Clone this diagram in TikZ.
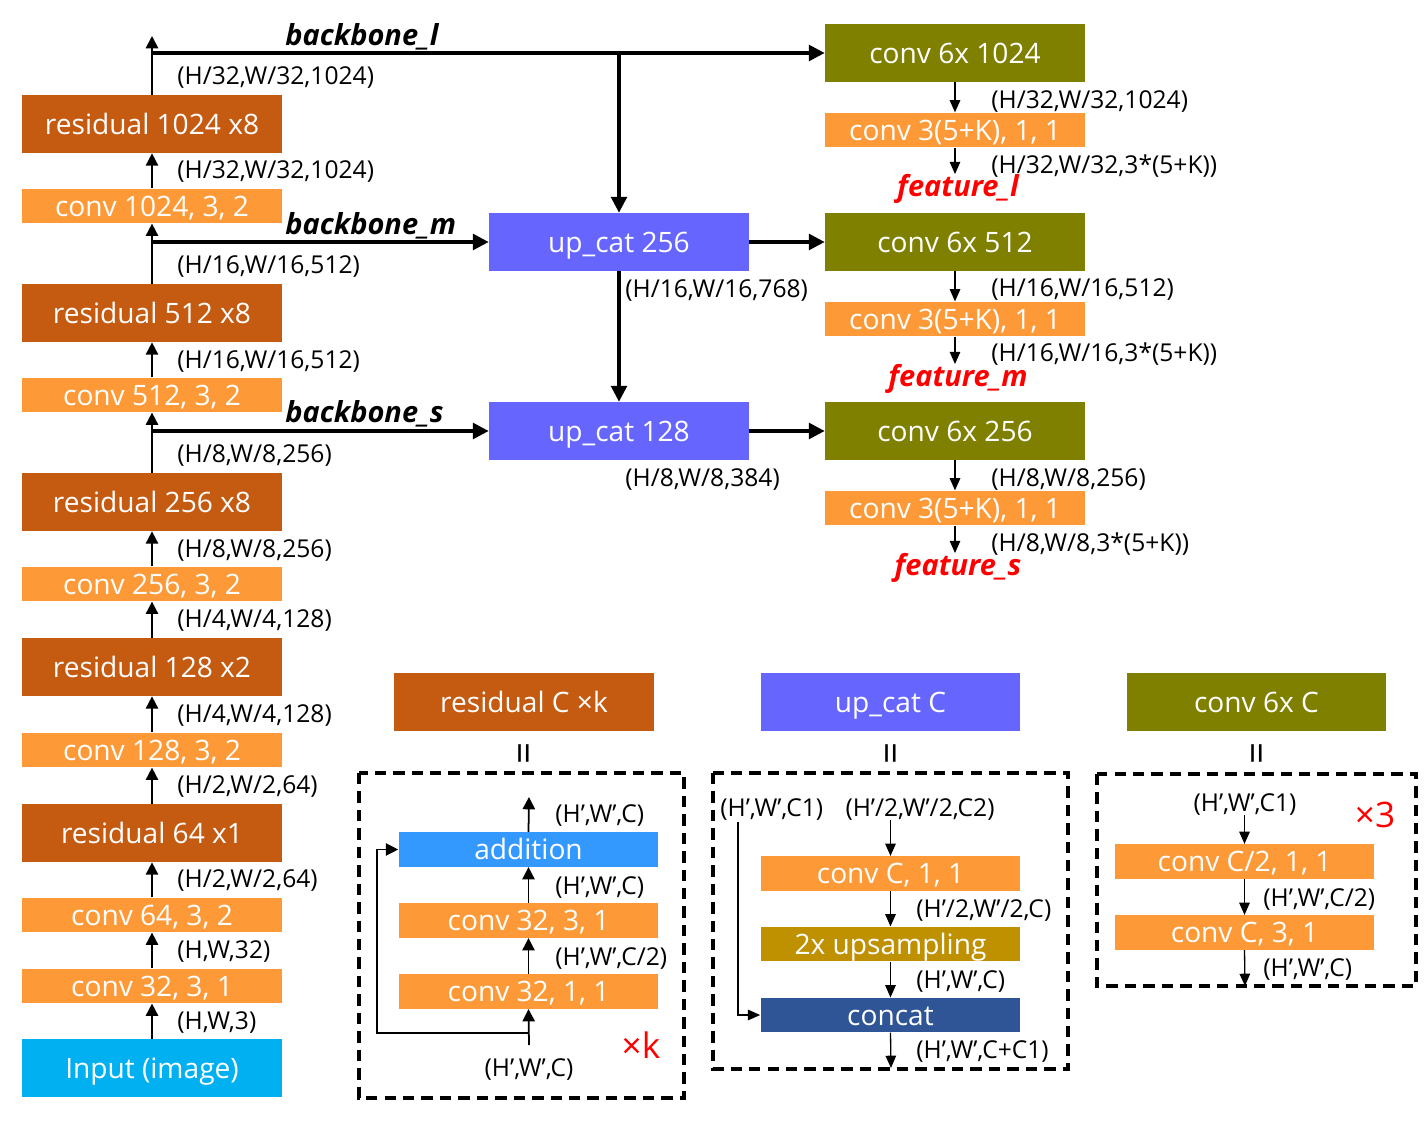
\documentclass[tikz,border=0pt]{standalone}
\usepackage{fontspec}
\setmainfont{Open Sans}
\usetikzlibrary{arrows.meta,positioning}
\definecolor{resC}{HTML}{C55A11}
\definecolor{convC}{HTML}{FD9A37}
\definecolor{inC}{HTML}{00B0F0}
\definecolor{upC}{HTML}{6666FF}
\definecolor{olvC}{HTML}{808000}
\definecolor{addC}{HTML}{3399FF}
\definecolor{upsC}{HTML}{BF9000}
\definecolor{catC}{HTML}{2F5597}
\definecolor{red}{rgb}{1,0,0}
\tikzset{
  blk/.style={rectangle, inner sep=0pt, text=white, font=\fontsize{16}{18}\selectfont,
    minimum width=5.2cm, text height=11.6pt, text depth=0pt},
  tall/.style={blk, minimum height=1.16cm},
  flat/.style={blk, minimum height=0.69cm},
  dim/.style={font=\fontsize{14}{15}\selectfont, inner sep=0pt, anchor=west, yshift=-1.2pt},
  dimc/.style={dim, anchor=center},
  bb/.style={font=\bfseries\itshape\fontsize{16.5}{18}\selectfont, inner sep=0pt, anchor=west},
  feat/.style={font=\bfseries\itshape\fontsize{16.5}{18}\selectfont, text=red, inner sep=0pt},
  times/.style={font=\fontsize{20}{22}\selectfont, text=red, inner sep=0pt},
  eqs/.style={rotate=90, font=\fontsize{22}{22}\selectfont, inner sep=0pt},
  up/.style={-{Triangle[width=7pt,length=7pt]}, line width=1pt},
  fat/.style={-{Triangle[width=9pt,length=9pt]}, line width=1.8pt},
  dn/.style={-{Triangle[width=6pt,length=7pt]}, line width=0.75pt},
  box/.style={dash pattern=on 6.5pt off 4pt, line width=2pt}
}
\begin{document}
\begin{tikzpicture}[x=0.02cm,y=-0.02cm]
\useasboundingbox (0,0) rectangle (1428,1125);

% backbone
\node[tall, fill=resC]  (r1024) at (152,124)  {residual 1024 x8};
\node[flat, fill=convC] (c1024) at (152,206)  {conv 1024, 3, 2};
\node[tall, fill=resC]  (r512)  at (152,313)  {residual 512 x8};
\node[flat, fill=convC] (c512)  at (152,395)  {conv 512, 3, 2};
\node[tall, fill=resC]  (r256)  at (152,502)  {residual 256 x8};
\node[flat, fill=convC] (c256)  at (152,584)  {conv 256, 3, 2};
\node[tall, fill=resC]  (r128)  at (152,667)  {residual 128 x2};
\node[flat, fill=convC] (c128)  at (152,750)  {conv 128, 3, 2};
\node[tall, fill=resC]  (r64)   at (152,833)  {residual 64 x1};
\node[flat, fill=convC] (c64)   at (152,915)  {conv 64, 3, 2};
\node[flat, fill=convC] (c32)   at (152,986)  {conv 32, 3, 1};
\node[tall, fill=inC]   (inp)   at (152,1068) {Input (image)};

\draw[up] (inp.north) -- (c32.south);
\draw[up] (c32.north) -- (c64.south);
\draw[up] (c64.north) -- (r64.south);
\draw[up] (r64.north) -- (c128.south);
\draw[up] (c128.north) -- (r128.south);
\draw[up] (r128.north) -- (c256.south);
\draw[up] (c256.north) -- (r256.south);
\draw[up] (r256.north) -- (c512.south);
\draw[up] (c512.north) -- (r512.south);
\draw[up] (r512.north) -- (c1024.south);
\draw[up] (c1024.north) -- (r1024.south);
\coordinate (topend) at (152,36);
\draw[up] (r1024.north) -- (topend);

\node[dim] (d1)  at (177,1020) {(H,W,3)};
\node[dim] (d2)  at (177,949)  {(H,W,32)};
\node[dim] (d3)  at (177,878)  {(H/2,W/2,64)};
\node[dim] (d4)  at (177,784)  {(H/2,W/2,64)};
\node[dim] (d5)  at (177,713)  {(H/4,W/4,128)};
\node[dim] (d6)  at (177,618)  {(H/4,W/4,128)};
\node[dim] (d7)  at (177,548)  {(H/8,W/8,256)};
\node[dim] (d8)  at (177,453)  {(H/8,W/8,256)};
\node[dim] (d9)  at (177,359)  {(H/16,W/16,512)};
\node[dim] (d10) at (177,264)  {(H/16,W/16,512)};
\node[dim] (d11) at (177,169)  {(H/32,W/32,1024)};
\node[dim] (d12) at (177,75)   {(H/32,W/32,1024)};

% neck
\node[tall, fill=upC] (uc256) at (619,242) {up\_cat 256};
\node[tall, fill=upC] (uc128) at (619,431) {up\_cat 128};
\node[dim] (d13) at (625,288) {(H/16,W/16,768)};
\node[dim] (d14) at (625,477) {(H/8,W/8,384)};

% heads
\node[tall, fill=olvC]  (c6l) at (955,53)  {conv 6x 1024};
\node[flat, fill=convC] (kl)  at (955,130) {conv 3(5+K), 1, 1};
\node[feat] (fl) at (958,189) {feature\_l};
\node[tall, fill=olvC]  (c6m) at (955,242) {conv 6x 512};
\node[flat, fill=convC] (km)  at (955,319) {conv 3(5+K), 1, 1};
\node[feat] (fm) at (958,379) {feature\_m};
\node[tall, fill=olvC]  (c6s) at (955,431) {conv 6x 256};
\node[flat, fill=convC] (ks)  at (955,508) {conv 3(5+K), 1, 1};
\node[feat] (fs) at (958,568) {feature\_s};

\coordinate (bl) at (152,53);
\draw[fat] (bl) -- (c6l.west);
\draw[fat] (uc256.north |- bl) -- (uc256.north);
\draw[fat] (r512.north |- uc256.west) -- (uc256.west);
\draw[fat] (r256.north |- uc128.west) -- (uc128.west);
\draw[fat] (uc256.south) -- (uc128.north);
\draw[fat] (uc256.east) -- (c6m.west);
\draw[fat] (uc128.east) -- (c6s.west);
\node[bb] (bbl) at (285,37)  {backbone\_l};
\node[bb] (bbm) at (285,226) {backbone\_m};
\node[bb] (bbs) at (285,414) {backbone\_s};

\draw[dn] (c6l.south) -- (kl.north);
\draw[dn] (kl.south) -- (kl.south |- fl.north);
\draw[dn] (c6m.south) -- (km.north);
\draw[dn] (km.south) -- (km.south |- fm.north);
\draw[dn] (c6s.south) -- (ks.north);
\draw[dn] (ks.south) -- (ks.south |- fs.north);
\node[dim] (d15) at (991,99)  {(H/32,W/32,1024)};
\node[dim] (d16) at (991,164) {(H/32,W/32,3*(5+K))};
\node[dim] (d17) at (991,287) {(H/16,W/16,512)};
\node[dim] (d18) at (991,352) {(H/16,W/16,3*(5+K))};
\node[dim] (d19) at (991,477) {(H/8,W/8,256)};
\node[dim] (d20) at (991,542) {(H/8,W/8,3*(5+K))};

% legend: residual
\node[tall, fill=resC] (resL) at (524,702) {residual C ×k};
\node[eqs] (eq1) at (528,753) {=};
\draw[box] (359,773) rectangle (684,1098);
\node[flat, fill=addC]  (add)  at (528.5,849.5) {addition};
\node[flat, fill=convC] (r331) at (528.5,920.5) {conv 32, 3, 1};
\node[flat, fill=convC] (r311) at (528.5,991.5) {conv 32, 1, 1};
\coordinate (rin) at (529,1045);
\coordinate (rout) at (529,797);
\draw[up] (rin) -- (r311.south);
\draw[up] (r311.north) -- (r331.south);
\draw[up] (r331.north) -- (add.south);
\draw[up] (add.north) -- (rout);
\draw[-{Triangle[width=7pt,length=7pt]}, line width=0.75pt] (529,1033) -- (377,1033) -- (377,849.5) -- (add.west);
\node[dimc] (d21) at (529,1067) {(H',W',C)};
\node[dim]  (d22) at (555,956)  {(H',W',C/2)};
\node[dim]  (d23) at (555,885)  {(H’,W’,C)};
\node[dim]  (d24) at (555,813)  {(H’,W’,C)};
\node[times] (xk) at (641,1045) {×k};

% legend: up_cat
\node[tall, fill=upC] (ucL) at (890.5,702) {up\_cat C};
\node[eqs] (eq2) at (895,753) {=};
\draw[box] (713,773) rectangle (1068,1069);
\node[dim]  (u1) at (720,807) {(H’,W’,C1)};
\node[dimc] (u2) at (920,807) {(H’/2,W’/2,C2)};
\node[flat, fill=convC] (uc11) at (890.5,873.5) {conv C, 1, 1};
\node[flat, fill=upsC]  (ups)  at (890.5,944)   {2x upsampling};
\node[flat, fill=catC]  (cat)  at (890.5,1015)  {concat};
\coordinate (uout) at (891,1068);
\draw[dn] (uc11.north |- u2.south) -- (uc11.north);
\draw[dn] (uc11.south) -- (ups.north);
\draw[dn] (ups.south) -- (cat.north);
\draw[dn] (cat.south) -- (uout);
\draw[dn] (738,822) -- (738,1015) -- (cat.west);
\node[dim] (u3) at (916,908)  {(H’/2,W’/2,C)};
\node[dim] (u4) at (916,979)  {(H’,W’,C)};
\node[dim] (u5) at (916,1049) {(H’,W’,C+C1)};

% legend: conv 6x
\node[tall, fill=olvC] (c6L) at (1256.5,702) {conv 6x C};
\node[eqs] (eq3) at (1261,753) {=};
\draw[box] (1097,774) rectangle (1416,986);
\node[dimc] (v1) at (1245,802) {(H’,W’,C1)};
\node[times] (x3) at (1375,815) {×3};
\node[flat, fill=convC] (vc21) at (1244.5,861.5) {conv C/2, 1, 1};
\node[flat, fill=convC] (vc31) at (1244.5,932.5) {conv C, 3, 1};
\coordinate (vout) at (1245,986);
\draw[dn] (vc21.north |- v1.south) -- (vc21.north);
\draw[dn] (vc21.south) -- (vc31.north);
\draw[dn] (vc31.south) -- (vout);
\node[dim] (v2) at (1263,897) {(H’,W’,C/2)};
\node[dim] (v3) at (1263,967) {(H’,W’,C)};
\end{tikzpicture}
\end{document}
